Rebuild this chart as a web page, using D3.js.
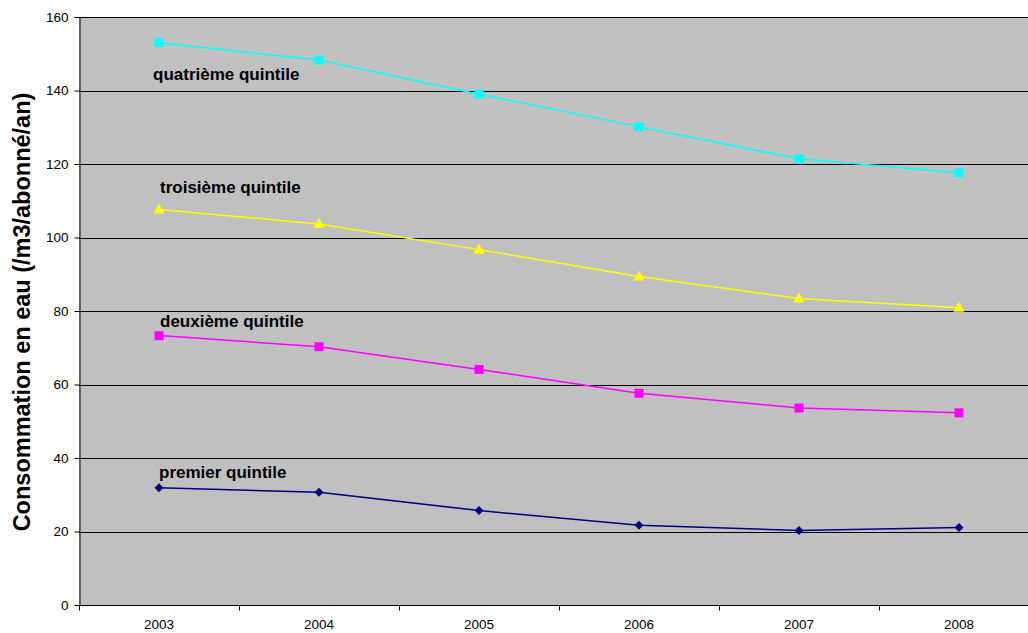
<!DOCTYPE html>
<html>
<head>
<meta charset="utf-8">
<script src="https://cdn.jsdelivr.net/npm/d3@7"></script>
<style>
  html, body { margin: 0; padding: 0; background: #fff; overflow: hidden; }
  svg { display: block; font-family: "Liberation Sans", Arial, sans-serif; }
</style>
</head>
<body>
<svg id="chart" width="1028" height="633"></svg>
<script>
// Consommation en eau par quintile, 2003-2008
const years = ["2003", "2004", "2005", "2006", "2007", "2008"];
const quatrieme = [153.0, 148.3, 139.0, 130.1, 121.4, 117.6];
const troisieme = [107.6, 103.7, 96.7, 89.4, 83.4, 80.9];
const deuxieme  = [73.3, 70.3, 64.1, 57.6, 53.6, 52.3];
const premier   = [31.9, 30.7, 25.7, 21.7, 20.3, 21.1];
const yTicks = [0, 20, 40, 60, 80, 100, 120, 140, 160];

const series = [
  { name: "quatrième quintile", values: quatrieme, color: "#00ffff", marker: "square",   labelDx: -6, labelY: 142.9 },
  { name: "troisième quintile", values: troisieme, color: "#ffff00", marker: "triangle", labelDx: 1,  labelY: 112.1 },
  { name: "deuxième quintile",  values: deuxieme,  color: "#ff00ff", marker: "square",   labelDx: 1,  labelY: 75.6 },
  { name: "premier quintile",   values: premier,   color: "#000080", marker: "diamond",  labelDx: 0,  labelY: 34.6 }
];

const svg = d3.select("#chart");
const margin = { left: 79, top: 17, bottom: 28 };
const plotW = 960;
const plotH = 633 - margin.top - margin.bottom;

const x = d3.scaleBand().domain(years).range([margin.left, margin.left + plotW]);
const y = d3.scaleLinear().domain([0, 160]).range([margin.top + plotH, margin.top]);

// plot area background
svg.append("rect")
  .attr("x", margin.left).attr("y", margin.top)
  .attr("width", plotW).attr("height", plotH)
  .attr("fill", "#c0c0c0");

// horizontal gridlines
svg.append("g").selectAll("line").data(yTicks.filter(d => d > 0)).join("line")
  .attr("x1", margin.left).attr("x2", margin.left + plotW)
  .attr("y1", d => Math.round(y(d)) + 0.5).attr("y2", d => Math.round(y(d)) + 0.5)
  .attr("stroke", "#000").attr("stroke-width", 1);

// y axis
const yAxis = svg.append("g")
  .attr("transform", `translate(${margin.left + 0.5},0)`)
  .call(d3.axisLeft(y).tickValues(yTicks).tickSize(5).tickPadding(6).tickFormat(d3.format("d")));
yAxis.select(".domain").attr("stroke", "#000");
yAxis.selectAll("text").attr("font-size", 13.5).attr("fill", "#000")
  .attr("font-family", "Liberation Sans, Arial, sans-serif");

// x axis with ticks between categories
const xAxisG = svg.append("g")
  .attr("transform", `translate(0,${Math.round(margin.top + plotH) + 0.5})`);
xAxisG.append("line")
  .attr("x1", margin.left).attr("x2", margin.left + plotW)
  .attr("stroke", "#000");
const boundaries = years.map(d => x(d)).concat([margin.left + plotW]);
xAxisG.selectAll("line.tick").data(boundaries).join("line")
  .attr("class", "tick")
  .attr("x1", d => Math.round(d) + 0.5).attr("x2", d => Math.round(d) + 0.5)
  .attr("y1", 0).attr("y2", 5).attr("stroke", "#000");
xAxisG.selectAll("text").data(years).join("text")
  .attr("x", d => x(d) + x.bandwidth() / 2)
  .attr("y", 23)
  .attr("text-anchor", "middle")
  .attr("font-size", 13.5)
  .text(d => d);

// y axis title
svg.append("text")
  .attr("transform", `translate(30,${margin.top + 295}) rotate(-90)`)
  .attr("text-anchor", "middle")
  .attr("font-size", 23.5)
  .attr("font-weight", "bold")
  .text("Consommation en eau (/m3/abonné/an)");

const cx = d => x(d) + x.bandwidth() / 2;
const line = d3.line().x((v, i) => cx(years[i])).y(v => y(v));

const markerPath = {
  square: "M-4.5,-4.5H4.5V4.5H-4.5Z",
  triangle: "M0,-6L5.5,4H-5.5Z",
  diamond: "M0,-4.5L4.5,0L0,4.5L-4.5,0Z"
};

series.forEach(s => {
  const g = svg.append("g");
  g.append("path")
    .datum(s.values)
    .attr("d", line)
    .attr("fill", "none")
    .attr("stroke", s.color)
    .attr("stroke-width", 1.5);
  g.selectAll("path.m").data(s.values).join("path")
    .attr("class", "m")
    .attr("transform", (v, i) => `translate(${cx(years[i])},${y(v)})`)
    .attr("d", markerPath[s.marker])
    .attr("fill", s.color);
  svg.append("text")
    .attr("x", cx(years[0]) + s.labelDx)
    .attr("y", y(s.labelY))
    .attr("font-size", 17)
    .attr("font-weight", "bold")
    .attr("fill", "#000")
    .text(s.name);
});
</script>
</body>
</html>
